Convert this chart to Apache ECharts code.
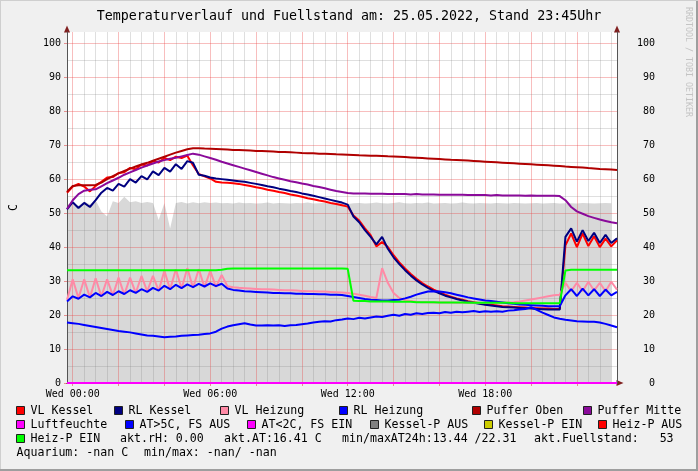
<!DOCTYPE html>
<html><head><meta charset="utf-8">
<script src="https://cdn.jsdelivr.net/npm/echarts@6/dist/echarts.min.js"></script>
<style>html,body{margin:0;padding:0;background:#f0f0f0;overflow:hidden}#c{width:698px;height:471px}</style>
</head><body><div id="c"></div>
<script>
// ---- categories (15-min steps, Tue 23:45 .. Wed 23:45) ----
const times = ["23:45",
"00:00","00:15","00:30","00:45","01:00","01:15","01:30","01:45","02:00","02:15","02:30","02:45",
"03:00","03:15","03:30","03:45","04:00","04:15","04:30","04:45","05:00","05:15","05:30","05:45",
"06:00","06:15","06:30","06:45","07:00","07:15","07:30","07:45","08:00","08:15","08:30","08:45",
"09:00","09:15","09:30","09:45","10:00","10:15","10:30","10:45","11:00","11:15","11:30","11:45",
"12:00","12:15","12:30","12:45","13:00","13:15","13:30","13:45","14:00","14:15","14:30","14:45",
"15:00","15:15","15:30","15:45","16:00","16:15","16:30","16:45","17:00","17:15","17:30","17:45",
"18:00","18:15","18:30","18:45","19:00","19:15","19:30","19:45","20:00","20:15","20:30","20:45",
"21:00","21:15","21:30","21:45","22:00","22:15","22:30","22:45","23:00","23:15","23:30","23:45"];
const dayName = "Wed";
const labelTimes = ["00:00","06:00","12:00","18:00"];
const majorGridTimes = ["00:00","02:00","04:00","06:00","08:00","10:00","12:00","14:00","16:00","18:00","20:00","22:00"];
const minorGridMinutes = ["00","30"];
const yMin = 0, yMax = 103.3, yMajorStep = 10, yMinorStep = 5;

// ---- series values ----
const vlKessel = [56.0,57.8,58.6,57.8,56.4,58.0,59.2,60.5,60.6,61.8,62.0,63.3,62.9,64.3,64.0,65.3,64.9,66.2,65.6,66.6,66.2,66.9,64.0,61.5,60.8,
60.2,59.2,59.0,58.9,58.8,58.6,58.3,58.0,57.6,57.3,56.9,56.6,56.2,55.9,55.5,55.2,54.8,54.4,54.1,53.7,53.4,53.0,52.7,52.3,51.9,
49.3,47.8,45.5,43.5,40.2,41.5,40.0,37.6,35.5,33.7,32.1,30.7,29.4,28.4,27.5,26.7,26.0,25.4,24.9,24.5,24.1,23.8,23.5,23.2,23.0,
22.8,22.6,22.5,22.4,22.3,22.2,22.1,22.0,21.9,21.9,21.8,21.8,40.5,44.0,40.0,44.0,40.3,43.2,40.0,42.5,40.2,42.0];
const rlKessel = [51.1,53.2,51.5,53.0,51.8,53.8,56.0,57.4,56.6,58.6,57.8,60.0,59.0,60.9,59.9,62.3,61.2,63.3,62.2,64.4,63.0,65.3,64.8,61.3,61.0,
60.5,60.2,60.0,59.8,59.6,59.4,59.2,58.9,58.6,58.3,57.9,57.6,57.2,56.9,56.5,56.2,55.8,55.5,55.1,54.7,54.3,53.9,53.5,53.1,52.5,
49.0,47.3,45.0,43.0,40.8,43.0,39.5,37.0,35.0,33.2,31.6,30.2,29.0,28.0,27.1,26.4,25.7,25.2,24.7,24.3,23.9,23.6,23.3,23.0,22.8,
22.6,22.4,22.3,22.2,22.1,22.0,21.9,21.8,21.7,21.6,21.6,21.6,43.0,45.5,41.6,45.0,41.8,44.2,41.2,43.6,41.2,42.6];
const vlHeizung = [24.5,30.5,25.0,30.5,25.2,30.8,25.5,30.5,25.8,31.0,26.0,31.0,26.5,31.5,27.0,31.5,27.2,33.0,27.5,33.5,27.8,33.8,28.0,33.5,28.2,
33.0,28.3,31.8,28.5,28.2,28.0,27.9,27.8,27.7,27.6,27.6,27.5,27.4,27.3,27.3,27.2,27.1,27.0,27.0,26.9,26.9,26.8,26.7,26.6,26.5,
26.3,26.0,25.7,25.3,25.0,33.8,29.5,26.5,25.0,24.4,24.1,23.9,23.8,23.8,23.7,23.7,23.7,23.7,23.6,23.6,23.6,23.6,23.6,23.6,23.6,
23.6,23.7,23.7,23.8,24.0,24.3,24.6,24.9,25.2,25.5,25.8,26.0,29.5,27.0,29.5,27.0,29.8,27.2,29.5,27.0,29.8,27.5];
const rlHeizung = [24.0,25.5,24.8,26.0,25.2,26.5,25.6,26.8,25.9,27.0,26.2,27.3,26.5,27.6,26.8,28.0,27.2,28.6,27.6,28.9,27.9,29.0,28.2,29.2,28.4,
29.3,28.5,29.2,27.8,27.4,27.2,27.0,26.9,26.8,26.7,26.6,26.5,26.5,26.4,26.4,26.3,26.3,26.2,26.2,26.1,26.1,26.0,26.0,25.9,25.6,
25.3,25.0,24.7,24.5,24.4,24.3,24.3,24.4,24.5,24.9,25.4,26.0,26.5,26.9,27.0,26.9,26.7,26.4,26.0,25.6,25.2,24.9,24.6,24.3,24.1,
23.9,23.7,23.5,23.3,23.1,23.0,22.9,22.8,22.7,22.6,22.6,22.6,25.8,27.6,25.6,27.8,25.8,27.6,25.6,27.5,25.8,26.8];
const pufferOben = [56.2,58.0,58.2,58.2,58.2,58.3,59.0,60.0,60.9,61.7,62.4,63.1,63.7,64.3,64.8,65.4,66.0,66.6,67.2,67.8,68.3,68.8,69.1,69.1,69.0,
68.95,68.9,68.8,68.7,68.6,68.55,68.5,68.4,68.3,68.25,68.2,68.1,68.0,67.95,67.9,67.8,67.7,67.65,67.6,67.5,67.45,67.4,67.3,67.25,67.2,
67.1,67.0,66.95,66.9,66.85,66.8,66.7,66.65,66.6,66.5,66.4,66.3,66.2,66.1,66.0,65.9,65.8,65.7,65.65,65.55,65.45,65.35,65.25,65.15,65.05,
64.95,64.85,64.75,64.65,64.55,64.45,64.35,64.25,64.15,64.05,63.95,63.85,63.7,63.6,63.5,63.4,63.25,63.15,63.0,62.9,62.8,62.7];
const pufferMitte = [51.2,53.8,55.6,56.6,56.9,57.0,57.9,58.8,59.6,60.4,61.3,62.0,62.7,63.4,64.0,64.6,65.2,65.6,66.0,66.3,66.7,67.1,67.5,67.2,66.7,
66.2,65.7,65.1,64.6,64.1,63.6,63.1,62.6,62.1,61.6,61.1,60.6,60.2,59.8,59.4,59.1,58.7,58.4,58.0,57.7,57.3,56.9,56.5,56.2,55.9,
55.8,55.8,55.8,55.7,55.7,55.7,55.6,55.6,55.6,55.6,55.5,55.6,55.5,55.5,55.5,55.4,55.4,55.4,55.4,55.4,55.3,55.3,55.3,55.3,55.2,
55.3,55.2,55.2,55.2,55.2,55.1,55.2,55.1,55.1,55.1,55.1,55.0,53.8,51.8,50.5,49.8,49.1,48.6,48.1,47.7,47.3,47.0];
const luftfeuchte = [0,0,0,0,0,0,0,0,0,0,0,0,0,0,0,0,0,0,0,0,0,0,0,0,0,
0,0,0,0,0,0,0,0,0,0,0,0,0,0,0,0,0,0,0,0,0,0,0,0,0,
0,0,0,0,0,0,0,0,0,0,0,0,0,0,0,0,0,0,0,0,0,0,0,0,0,
0,0,0,0,0,0,0,0,0,0,0,0,0,0,0,0,0,0,0,0,0,0];
const aussenTemp = [17.8,17.6,17.4,17.1,16.8,16.5,16.2,15.9,15.6,15.3,15.1,14.9,14.6,14.3,14.0,13.9,13.7,13.44,13.6,13.7,13.9,14.0,14.1,14.2,14.4,
14.6,15.1,16.0,16.6,17.0,17.3,17.6,17.2,16.9,16.9,17.0,16.9,17.0,16.8,17.0,17.1,17.3,17.5,17.8,18.0,18.2,18.1,18.5,18.7,19.0,
18.8,19.2,19.0,19.3,19.6,19.4,19.8,20.1,19.8,20.3,20.1,20.5,20.3,20.6,20.7,20.5,20.9,20.7,21.0,20.8,21.0,21.2,20.9,21.1,21.0,
21.1,21.0,21.3,21.4,21.6,21.8,22.31,21.5,20.7,20.0,19.3,18.9,18.6,18.4,18.2,18.1,18.0,18.0,17.8,17.4,16.9,16.41];
const heizPEin = [33.2,33.2,33.2,33.2,33.2,33.2,33.2,33.2,33.2,33.2,33.2,33.2,33.2,33.2,33.2,33.2,33.2,33.2,33.2,33.2,33.2,33.2,33.2,33.2,33.2,
33.2,33.2,33.3,33.6,33.7,33.7,33.7,33.7,33.7,33.7,33.7,33.7,33.7,33.7,33.7,33.7,33.7,33.7,33.7,33.7,33.7,33.7,33.7,33.7,33.6,
24.2,24.1,24.1,24.0,24.0,24.0,24.0,23.9,23.9,23.9,23.9,23.8,23.8,23.8,23.8,23.7,23.7,23.7,23.7,23.7,23.6,23.6,23.6,23.6,23.6,
23.6,23.6,23.6,23.5,23.5,23.5,23.5,23.5,23.5,23.5,23.5,23.5,33.1,33.3,33.3,33.3,33.3,33.3,33.3,33.3,33.3,33.3];
const fuellstand = [52.5,53.0,52.2,53.4,52.6,53.8,50.5,49.0,53.5,53.0,54.8,53.2,53.5,53.0,53.3,53.0,48.0,53.0,45.5,53.0,53.3,52.8,53.2,52.9,53.2,
53.0,53.1,52.9,53.0,52.8,53.1,52.9,53.0,52.8,52.9,53.1,52.8,53.0,52.9,52.8,53.0,52.9,53.1,52.8,52.9,53.0,52.8,52.9,53.0,52.7,
52.9,53.0,52.8,52.9,53.1,52.9,52.8,53.0,53.2,52.9,52.8,53.0,52.9,53.1,52.8,52.9,53.0,52.8,52.9,53.1,52.9,52.8,53.0,52.9,52.8,
53.0,52.9,52.8,53.0,52.9,52.8,52.9,53.0,52.8,52.9,53.0,52.8,52.9,52.9,52.8,53.0,52.9,52.8,52.9,53.0,52.9,null];

// ---- readouts ----
const rhNow = "0.00", atNow = "16.41", atMin24 = "13.44", atMax24 = "22.31", fillNow = "53";
const titleText = "Temperaturverlauf und Fuellstand am: 25.05.2022, Stand 23:45Uhr";

// ---- styles ----
const FONT = '"DejaVu Sans Mono", monospace';
const C = {
  vlKessel:'#ff0000', rlKessel:'#000080', vlHeizung:'#ff8aa6', rlHeizung:'#0000ff',
  pufferOben:'#b00000', pufferMitte:'#8a0a9a', luftfeuchte:'#ff00ff', at:'#0000ff',
  atCold:'#ff00ff', kesselAus:'#808080', kesselEin:'#cccc00', heizAus:'#ff0000', heizEin:'#00ff00'
};
const GRID_MINOR = 'rgba(128,128,128,0.25)';
const GRID_MAJOR = 'rgba(235,70,70,0.35)';
const AXIS = '#555555';
const ARROW = '#801f1f';
const ARROW_SIZE = [6, 7];

const isMajor = i => majorGridTimes.indexOf(times[i]) >= 0;
const isMinor = i => minorGridMinutes.indexOf(times[i].slice(3)) >= 0 && !isMajor(i);

function lineSeries(name, data, color){
  return {name, type:'line', data, xAxisIndex:0, yAxisIndex:0, symbol:'none', showSymbol:false,
    z:2, lineStyle:{color, width:2}, itemStyle:{color}, silent:true};
}

const chart = echarts.init(document.getElementById('c'), null, {renderer:'canvas', width:698, height:471});

// legend layout
const rowsY = [411, 425, 439, 453];
const legendItems = [
  {t:'VL Kessel', c:C.vlKessel, x:16.5, r:0}, {t:'RL Kessel', c:C.rlKessel, x:114.5, r:0},
  {t:'VL Heizung', c:C.vlHeizung, x:220.5, r:0}, {t:'RL Heizung', c:C.rlHeizung, x:339.5, r:0},
  {t:'Puffer Oben', c:C.pufferOben, x:472.5, r:0}, {t:'Puffer Mitte', c:C.pufferMitte, x:583.5, r:0},
  {t:'Luftfeuchte', c:C.luftfeuchte, x:16.5, r:1}, {t:'AT>5C, FS AUS', c:C.at, x:125.5, r:1},
  {t:'AT<2C, FS EIN', c:C.atCold, x:247.5, r:1}, {t:'Kessel-P AUS', c:C.kesselAus, x:370.5, r:1},
  {t:'Kessel-P EIN', c:C.kesselEin, x:484.5, r:1}, {t:'Heiz-P AUS', c:C.heizAus, x:598.5, r:1},
  {t:'Heiz-P EIN', c:C.heizEin, x:16.5, r:2}
];
const infoTexts = [
  {t:'akt.rH: ' + rhNow, x:120, r:2},
  {t:'akt.AT:' + atNow + ' C', x:224, r:2},
  {t:'min/maxAT24h:' + atMin24 + ' /' + atMax24, x:342, r:2},
  {t:'akt.Fuellstand:   ' + fillNow, x:534, r:2},
  {t:'Aquarium: -nan C', x:16.5, r:3},
  {t:'min/max: -nan/ -nan', x:144, r:3}
];
const LFONT = '11.6px "DejaVu Sans Mono", monospace';
const graphics = [];
legendItems.forEach(it => {
  const y = rowsY[it.r];
  graphics.push({type:'rect', silent:true, shape:{x:it.x, y:y-4.5, width:8, height:8},
    style:{fill:it.c, stroke:'#202020', lineWidth:1}});
  graphics.push({type:'text', silent:true, x:it.x+14, y:y,
    style:{text:it.t, font:LFONT, fill:'#000', textAlign:'left', textVerticalAlign:'middle'}});
});
infoTexts.forEach(it => {
  graphics.push({type:'text', silent:true, x:it.x, y:rowsY[it.r],
    style:{text:it.t, font:LFONT, fill:'#000', textAlign:'left', textVerticalAlign:'middle'}});
});
graphics.push({type:'text', silent:true, x:349, y:17,
  style:{text:titleText, font:'13.3px "DejaVu Sans Mono", monospace', fill:'#000', textAlign:'center', textVerticalAlign:'middle'}});
graphics.push({type:'text', silent:true, x:688, y:62, rotation:-Math.PI/2,
  style:{text:'RRDTOOL / TOBI OETIKER', font:'8.3px "DejaVu Sans Mono", monospace', fill:'#c4c4c4', textAlign:'center', textVerticalAlign:'middle'}});
// frame
graphics.push({type:'rect', silent:true, shape:{x:0, y:469, width:698, height:2}, style:{fill:'#9e9e9e'}});
graphics.push({type:'rect', silent:true, shape:{x:696, y:0, width:2, height:471}, style:{fill:'#9e9e9e'}});
graphics.push({type:'rect', silent:true, shape:{x:0, y:0, width:698, height:1}, style:{fill:'#cfcfcf'}});
graphics.push({type:'rect', silent:true, shape:{x:0, y:0, width:1, height:469}, style:{fill:'#cfcfcf'}});

const yBase = {type:'value', min:yMin, max:yMax};

const option = {
  animation:false,
  backgroundColor:'#f0f0f0',
  grid:{left:67, right:81, top:32, bottom:88, show:true, backgroundColor:'#ffffff', borderWidth:0, containLabel:false, outerBoundsMode:'none'},
  xAxis:[
    {type:'category', data:times, boundaryGap:false, position:'bottom', z:1.5,
     axisLine:{show:true, onZero:false, lineStyle:{color:AXIS, width:1}},
     axisTick:{show:true, interval:(i)=>isMajor(i), length:3, lineStyle:{color:'rgba(222,79,79,0.6)'}},
     axisLabel:{show:true, interval:(i)=>labelTimes.indexOf(times[i])>=0, formatter:(v)=>dayName+' '+v,
       fontFamily:FONT, fontSize:10, color:'#000', margin:6, hideOverlap:false},
     splitLine:{show:true, interval:(i)=>isMinor(i), lineStyle:{color:GRID_MINOR, width:1}}},
    {type:'category', data:times, boundaryGap:false, position:'bottom', z:1.4,
     axisLine:{show:true, onZero:false, symbol:['none','triangle'], symbolSize:ARROW_SIZE, symbolOffset:[0,3],
       lineStyle:{color:ARROW, width:1}},
     axisTick:{show:false}, axisLabel:{show:false},
     splitLine:{show:true, interval:(i)=>isMajor(i), lineStyle:{color:GRID_MAJOR, width:1}}}
  ],
  yAxis:[
    Object.assign({}, yBase, {position:'left', interval:yMinorStep, z:1.5,
      axisLine:{show:true, onZero:false, lineStyle:{color:AXIS}}, axisTick:{show:false}, axisLabel:{show:false},
      splitLine:{show:true, showMaxLine:false, lineStyle:{color:[GRID_MAJOR, GRID_MINOR], width:1}}}),
    Object.assign({}, yBase, {position:'left', interval:yMajorStep, z:1.4,
      name:'C', nameLocation:'middle', nameGap:47, nameRotate:90,
      nameTextStyle:{fontFamily:FONT, fontSize:11.6, color:'#000'},
      axisLine:{show:true, onZero:false, symbol:['none','triangle'], symbolSize:ARROW_SIZE, symbolOffset:[0,3],
        lineStyle:{color:ARROW}},
      axisTick:{show:true, length:3, lineStyle:{color:'rgba(222,79,79,0.6)'}},
      axisLabel:{show:true, showMaxLabel:false, fontFamily:FONT, fontSize:10, color:'#000', margin:6},
      splitLine:{show:false}}),
    Object.assign({}, yBase, {position:'right', interval:yMajorStep, z:1.4,
      axisLine:{show:true, onZero:false, symbol:['none','triangle'], symbolSize:ARROW_SIZE, symbolOffset:[0,3],
        lineStyle:{color:ARROW}},
      axisTick:{show:false},
      axisLabel:{show:true, showMaxLabel:false, align:'right', fontFamily:FONT, fontSize:10, color:'#000', margin:38},
      splitLine:{show:false}}),
    Object.assign({}, yBase, {position:'right', interval:yMinorStep, z:1.5,
      axisLine:{show:true, onZero:false, lineStyle:{color:AXIS}}, axisTick:{show:false}, axisLabel:{show:false},
      splitLine:{show:false}})
  ],
  series:[
    {name:'Fuellstand', type:'line', data:fuellstand, xAxisIndex:0, yAxisIndex:0, symbol:'none', showSymbol:false,
     z:1, silent:true, lineStyle:{width:0, opacity:0}, areaStyle:{color:'#d8d8d8', opacity:1}},
    lineSeries('VL Kessel', vlKessel, C.vlKessel),
    lineSeries('RL Kessel', rlKessel, C.rlKessel),
    lineSeries('VL Heizung', vlHeizung, C.vlHeizung),
    lineSeries('RL Heizung', rlHeizung, C.rlHeizung),
    lineSeries('Puffer Oben', pufferOben, C.pufferOben),
    lineSeries('Puffer Mitte', pufferMitte, C.pufferMitte),
    lineSeries('Luftfeuchte', luftfeuchte, C.luftfeuchte),
    lineSeries('AT>5C, FS AUS', aussenTemp, C.at),
    lineSeries('Heiz-P EIN', heizPEin, C.heizEin)
  ],
  graphic:{elements:graphics}
};
chart.setOption(option);
</script>
</body></html>
